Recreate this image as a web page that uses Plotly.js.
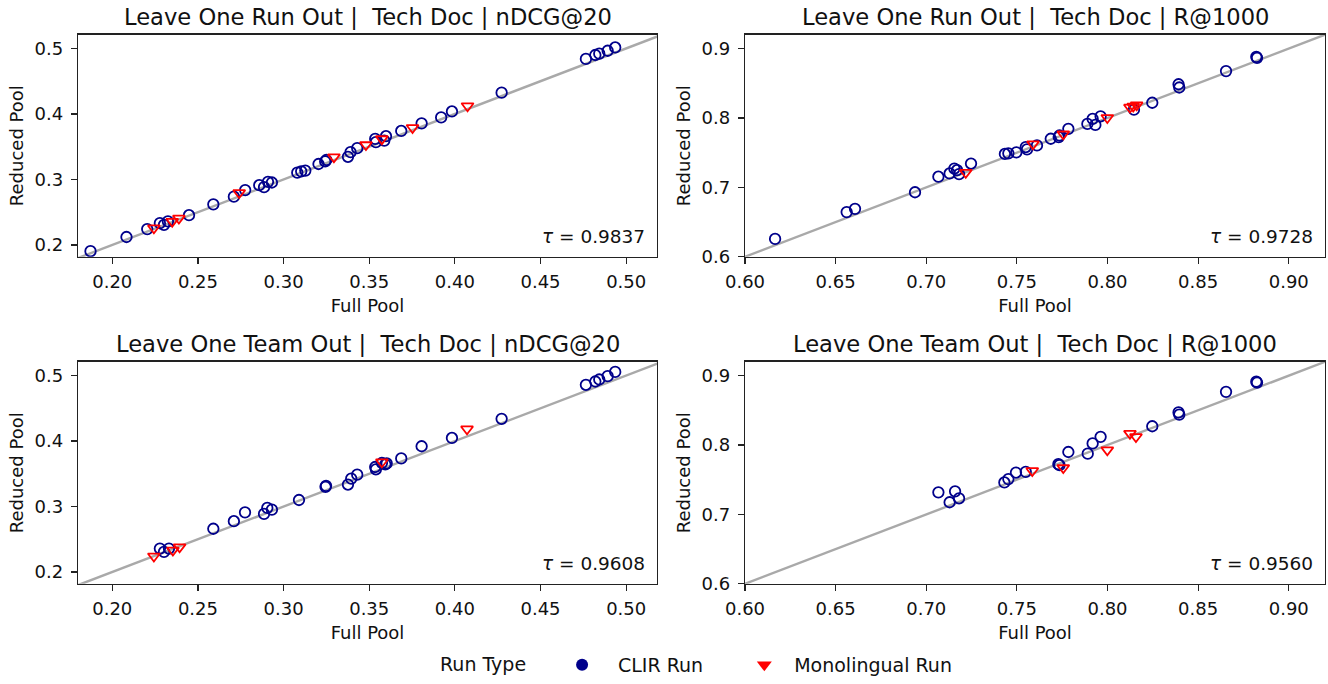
<!DOCTYPE html>
<html>
<head>
<meta charset="utf-8">
<script src="https://cdn.plot.ly/plotly-3.0.1.min.js"></script>
<style>html,body{margin:0;padding:0;background:#fff}#chart{width:1328px;height:684px}</style>
</head>
<body>
<div id="chart"></div>
<script>
// ---------- data ----------
const panelTitles = [
  "Leave One Run Out | \u00a0Tech Doc | nDCG@20",
  "Leave One Run Out | \u00a0Tech Doc | R@1000",
  "Leave One Team Out | \u00a0Tech Doc | nDCG@20",
  "Leave One Team Out | \u00a0Tech Doc | R@1000"
];
const tauValues = ["0.9837", "0.9728", "0.9608", "0.9560"];
const identityLine = [0, 1];
const seriesNames = ["CLIR Run", "Monolingual Run"];
const legendTitle = "Run Type";
const xAxisTitle = "Full Pool";
const yAxisTitle = "Reduced Pool";

// Leave One Run Out, nDCG@20
const lorNdcgClirFull = [0.1873,0.2083,0.2204,0.2278,0.2302,0.2325,0.2448,0.259,0.271,0.2776,0.2858,0.2886,0.2909,0.2932,0.308,0.3103,0.3127,0.3204,0.3243,0.325,0.3376,0.3391,0.343,0.3535,0.3539,0.3588,0.3598,0.3687,0.3806,0.392,0.3983,0.4273,0.4765,0.482,0.4843,0.4892,0.4936];
const lorNdcgClirReduced = [0.1905,0.2121,0.2242,0.2333,0.2307,0.2359,0.2454,0.262,0.2737,0.2837,0.2912,0.2882,0.2964,0.2953,0.3104,0.3124,0.3135,0.3236,0.3275,0.3297,0.3346,0.3417,0.3478,0.3619,0.3569,0.3593,0.366,0.374,0.3856,0.3947,0.4038,0.4325,0.484,0.49,0.492,0.4965,0.5015];
const lorNdcgMonoFull = [0.2243,0.235,0.2389,0.2741,0.3294,0.3481,0.3574,0.3753,0.4074];
const lorNdcgMonoReduced = [0.2257,0.2359,0.2408,0.2797,0.3342,0.3528,0.3619,0.379,0.4122];

// Leave One Run Out, R@1000
const lorRecallClirFull = [0.6166,0.6561,0.6607,0.6938,0.7067,0.7129,0.7155,0.717,0.7181,0.7247,0.7434,0.7453,0.7497,0.7549,0.7556,0.7611,0.7687,0.7731,0.7735,0.7784,0.7889,0.7918,0.7933,0.7962,0.8146,0.8247,0.8392,0.8396,0.8654,0.8821,0.8825];
const lorRecallClirReduced = [0.6257,0.6643,0.669,0.6929,0.7153,0.72,0.7271,0.7247,0.719,0.7343,0.7481,0.749,0.7504,0.7581,0.7547,0.7604,0.77,0.7724,0.7747,0.7843,0.7914,0.7986,0.79,0.8024,0.8119,0.8219,0.8486,0.8439,0.8676,0.8881,0.8867];
const lorRecallMonoFull = [0.7218,0.7589,0.7756,0.7999,0.8124,0.8142,0.8161];
const lorRecallMonoReduced = [0.7214,0.7624,0.7767,0.8004,0.8153,0.8167,0.8186];

// Leave One Team Out, nDCG@20
const lotNdcgClirFull = [0.2278,0.2302,0.2331,0.259,0.271,0.2775,0.2886,0.2905,0.2932,0.309,0.3245,0.3248,0.3376,0.3395,0.343,0.3535,0.3539,0.3574,0.3594,0.3602,0.3687,0.3806,0.3983,0.4273,0.4765,0.482,0.4843,0.4892,0.4936];
const lotNdcgClirReduced = [0.2359,0.2307,0.2359,0.2661,0.2776,0.2912,0.2888,0.2979,0.2953,0.31,0.3301,0.3316,0.3336,0.3427,0.3487,0.3604,0.3569,0.3665,0.3644,0.366,0.3735,0.3921,0.4047,0.434,0.4859,0.4909,0.494,0.4991,0.5056];
const lotNdcgMonoFull = [0.2243,0.2354,0.2393,0.3574,0.4071];
const lotNdcgMonoReduced = [0.2242,0.2333,0.2383,0.3679,0.4183];

// Leave One Team Out, R@1000
const lotRecallClirFull = [0.7067,0.7129,0.7159,0.7181,0.7431,0.7453,0.7495,0.7549,0.7729,0.7735,0.7784,0.7891,0.7918,0.7962,0.8247,0.8392,0.8396,0.8654,0.8821,0.8825];
const lotRecallClirReduced = [0.7319,0.7176,0.7333,0.7233,0.7461,0.751,0.7604,0.7614,0.7724,0.771,0.79,0.7876,0.8024,0.8119,0.8271,0.8471,0.8439,0.8767,0.8914,0.89];
const lotRecallMonoFull = [0.7585,0.7756,0.7999,0.8124,0.8157];
const lotRecallMonoReduced = [0.7629,0.7671,0.7929,0.8167,0.8119];

// ---------- build ----------
const FONT = "DejaVu Sans";
const CLIR_COLOR = "#00008B";
const MONO_COLOR = "#FF0000";
const LINE_COLOR = "#A9A9A9";
const NB = "\u00a0";
const TH = "\u2009";

const panels = [
  {clir:[lorNdcgClirFull, lorNdcgClirReduced], mono:[lorNdcgMonoFull, lorNdcgMonoReduced], xa:"x", ya:"y"},
  {clir:[lorRecallClirFull, lorRecallClirReduced], mono:[lorRecallMonoFull, lorRecallMonoReduced], xa:"x2", ya:"y2"},
  {clir:[lotNdcgClirFull, lotNdcgClirReduced], mono:[lotNdcgMonoFull, lotNdcgMonoReduced], xa:"x3", ya:"y3"},
  {clir:[lotRecallClirFull, lotRecallClirReduced], mono:[lotRecallMonoFull, lotRecallMonoReduced], xa:"x4", ya:"y4"}
];

const traces = [];
panels.forEach(p => {
  traces.push({x: identityLine, y: identityLine, xaxis: p.xa, yaxis: p.ya, mode: "lines",
    line: {color: LINE_COLOR, width: 2.4}, showlegend: false, hoverinfo: "skip"});
  traces.push({x: p.clir[0], y: p.clir[1], xaxis: p.xa, yaxis: p.ya, mode: "markers", showlegend: false,
    marker: {symbol: "circle-open", size: 10.5, color: CLIR_COLOR, line: {width: 1.8, color: CLIR_COLOR}}});
  traces.push({x: p.mono[0], y: p.mono[1], xaxis: p.xa, yaxis: p.ya, mode: "markers", showlegend: false,
    marker: {symbol: "triangle-down-open", size: 10.5, color: MONO_COLOR, line: {width: 1.8, color: MONO_COLOR}}});
});
// legend entries (filled markers as in reference legend)
traces.push({x: [null], y: [null], mode: "markers", name: NB+NB+TH + seriesNames[0] + NB.repeat(6), xaxis: "x", yaxis: "y",
  marker: {symbol: "circle", size: 12, color: CLIR_COLOR}});
traces.push({x: [null], y: [null], mode: "markers", name: NB+TH + seriesNames[1], xaxis: "x", yaxis: "y",
  marker: {symbol: "triangle-down", size: 13, color: MONO_COLOR}});

const W = 1328, H = 684;
const colDom = [[78/W, 657/W], [745/W, 1325/W]];
const rowDom = [[1-259/H, 1-35/H], [1-589/H, 1-365/H]];

function axisCommon(range, dtick, fmt, title, standoff, labelGap) {
  return {range: range, dtick: dtick, tick0: 0, tickformat: fmt,
    showline: true, mirror: true, linecolor: "#222", linewidth: 1.3, ticks: "outside", ticklen: 6, tickwidth: 1.2,
    tickcolor: "#222", showgrid: false, zeroline: false, ticklabelstandoff: labelGap,
    tickfont: {family: FONT, size: 18, color: "#111"},
    title: {text: title, font: {family: FONT, size: 18, color: "#111"}, standoff: standoff}};
}
function xAxis(i, dom, range, dtick, fmt) {
  return Object.assign(axisCommon(range, dtick, fmt, xAxisTitle, 8, 2), {domain: dom, anchor: "y" + (i===1?"":i)});
}
function yAxis(i, dom, range, dtick, fmt) {
  return Object.assign(axisCommon(range, dtick, fmt, yAxisTitle, 6, 4), {domain: dom, anchor: "x" + (i===1?"":i)});
}

const ndcgX = [0.18, 0.518], ndcgY = [0.182, 0.521];
const recX = [0.6, 0.92], recY = [0.6, 0.92];

const annotations = [];
const titleY = [1 - 17/H, 1 - 347/H];
const titleX = [(78+657)/2/W, (745+1325)/2/W];
panelTitles.forEach((t, i) => {
  annotations.push({text: t, xref: "paper", yref: "paper", x: titleX[i%2], y: titleY[Math.floor(i/2)],
    xanchor: "center", yanchor: "middle", showarrow: false, font: {family: FONT, size: 22.6, color: "#111"}});
});
tauValues.forEach((v, i) => {
  const ax = i===0 ? "" : String(i+1);
  annotations.push({text: "<i>τ</i> = " + v, xref: "x" + ax + " domain", yref: "y" + ax + " domain",
    x: 0.983, y: 0.09, xanchor: "right", yanchor: "middle", showarrow: false,
    font: {family: FONT, size: 18.5, color: "#111"}});
});

const layout = {
  width: W, height: H, margin: {l: 0, r: 0, t: 0, b: 0},
  paper_bgcolor: "#fff", plot_bgcolor: "#fff", font: {family: FONT, color: "#111"},
  xaxis: xAxis(1, colDom[0], ndcgX, 0.05, ".2f"),
  yaxis: yAxis(1, rowDom[0], ndcgY, 0.1, ".1f"),
  xaxis2: xAxis(2, colDom[1], recX, 0.05, ".2f"),
  yaxis2: yAxis(2, rowDom[0], recY, 0.1, ".1f"),
  xaxis3: xAxis(3, colDom[0], ndcgX, 0.05, ".2f"),
  yaxis3: yAxis(3, rowDom[1], ndcgY, 0.1, ".1f"),
  xaxis4: xAxis(4, colDom[1], recX, 0.05, ".2f"),
  yaxis4: yAxis(4, rowDom[1], recY, 0.1, ".1f"),
  showlegend: true,
  legend: {orientation: "h", x: 438/W, xanchor: "left", y: 1 - 671/H, yanchor: "middle",
    title: {text: legendTitle + NB.repeat(4) + TH, side: "left", font: {family: FONT, size: 19, color: "#111"}},
    font: {family: FONT, size: 19, color: "#111"}, bgcolor: "rgba(0,0,0,0)"},
  annotations: annotations
};

Plotly.newPlot("chart", traces, layout, {staticPlot: true, displayModeBar: false});
</script>
</body>
</html>
